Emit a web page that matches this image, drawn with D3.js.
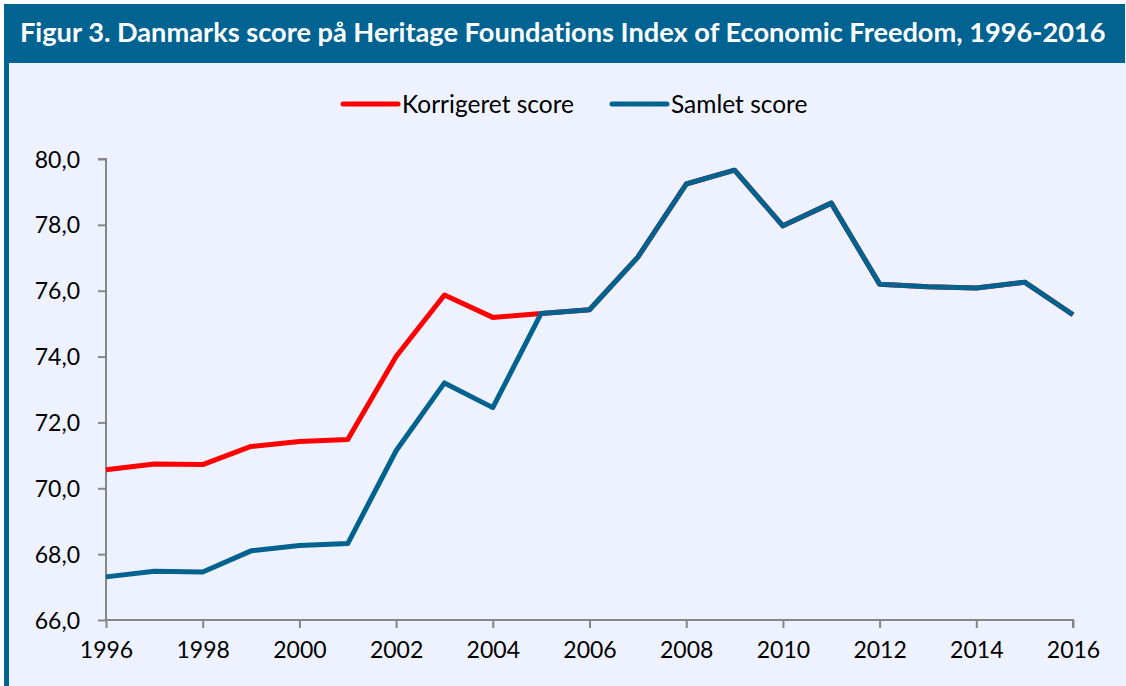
<!DOCTYPE html>
<html>
<head>
<meta charset="utf-8">
<script src="https://cdn.jsdelivr.net/npm/d3@7"></script>
<style>
  body { margin: 0; background: #fff; }
  text { font-family: Lato, "Open Sans", sans-serif; font-variant-ligatures: none; }
</style>
</head>
<body>
<div id="chart"></div>
<script>
// data
var years = d3.range(1996, 2017);
var korrigeret = [70.56, 70.74, 70.72, 71.27, 71.42, 71.48, 74.0, 75.87, 75.19, 75.31, 75.42,
                  77.02, 79.24, 79.66, 77.97, 78.66, 76.2, 76.12, 76.08, 76.26, 75.27];
var samlet = [67.31, 67.48, 67.46, 68.1, 68.26, 68.32, 71.14, 73.2, 72.45, 75.31, 75.42,
              77.02, 79.24, 79.66, 77.97, 78.66, 76.2, 76.12, 76.08, 76.26, 75.27];
var yTicks = [66, 68, 70, 72, 74, 76, 78, 80];
var xTicks = [1996, 1998, 2000, 2002, 2004, 2006, 2008, 2010, 2012, 2014, 2016];
var seriesNames = ['Korrigeret score', 'Samlet score'];
var title = 'Figur 3. Danmarks score på Heritage Foundations Index of Economic Freedom, 1996-2016';

var W = 1126, H = 686;
var red = '#ff0000', blue = '#00628f', grey = '#868686';

var svg = d3.select('#chart').append('svg')
    .attr('width', W)
    .attr('height', H);

// background + frame
svg.append('rect').attr('x', 0).attr('y', 0).attr('width', W).attr('height', H).attr('fill', '#ffffff');
svg.append('rect').attr('x', 4).attr('y', 4).attr('width', W - 4).attr('height', H - 4).attr('fill', '#eef2fe');
svg.append('rect').attr('x', 4).attr('y', 4).attr('width', 5).attr('height', H - 4).attr('fill', '#006391');
svg.append('rect').attr('x', 4).attr('y', 4).attr('width', W - 5).attr('height', 59).attr('fill', '#006391');

var t = svg.append('text')
    .attr('x', 20)
    .attr('y', 42)
    .attr('fill', '#ffffff')
    .style('font-weight', 'bold')
    .style('font-size', '24px')
    .text(title);
var tl = t.node().getComputedTextLength();
t.style('font-size', (24 * 1086 / tl) + 'px');

// scales
var x = d3.scaleLinear().domain([1996, 2016]).range([106, 1073]);
var y = d3.scaleLinear().domain([66, 80]).range([620, 159]);

// axes
var yAxis = svg.append('g')
    .attr('transform', 'translate(106,0)')
    .call(d3.axisLeft(y).tickValues(yTicks).tickSize(8).tickPadding(18)
        .tickFormat(function(d) { return d3.format('.1f')(d).replace('.', ','); }));
var xAxis = svg.append('g')
    .attr('transform', 'translate(0,620)')
    .call(d3.axisBottom(x).tickValues(xTicks).tickSize(8).tickPadding(14)
        .tickFormat(d3.format('d')));

svg.selectAll('.domain, .tick line')
    .attr('stroke', grey)
    .attr('stroke-width', 2);
svg.selectAll('.tick text')
    .attr('fill', '#000')
    .style('font-size', '23px')
    .style('font-family', 'Lato, sans-serif');
yAxis.selectAll('.tick text').attr('dy', '0.35em');
xAxis.selectAll('.tick text').attr('dy', '0.71em');
// y axis domain has no outer tick at bottom overlapping x axis
yAxis.select('.domain').attr('d', 'M-8,' + y(80) + 'H0V' + y(66));
xAxis.select('.domain').attr('d', 'M' + x(1996) + ',0H' + x(2016) + 'V8');

// lines
var line = d3.line()
    .x(function(d, i) { return x(years[i]); })
    .y(function(d) { return y(d); });

svg.append('path')
    .datum(korrigeret)
    .attr('d', line)
    .attr('fill', 'none')
    .attr('stroke', red)
    .attr('stroke-width', 5)
    .attr('stroke-linejoin', 'round');

svg.append('path')
    .datum(samlet)
    .attr('d', line)
    .attr('fill', 'none')
    .attr('stroke', blue)
    .attr('stroke-width', 5)
    .attr('stroke-linejoin', 'round');

// legend
var legend = svg.append('g');
var legX = [343, 612];
var colors = [red, blue];
seriesNames.forEach(function(name, i) {
    legend.append('line')
        .attr('x1', legX[i]).attr('x2', legX[i] + 55)
        .attr('y1', 104).attr('y2', 104)
        .attr('stroke', colors[i])
        .attr('stroke-width', 5)
        .attr('stroke-linecap', 'round');
    legend.append('text')
        .attr('x', legX[i] + 59)
        .attr('y', 104)
        .attr('dy', '0.35em')
        .style('font-size', '24.5px')
        .text(name);
});
</script>
</body>
</html>
